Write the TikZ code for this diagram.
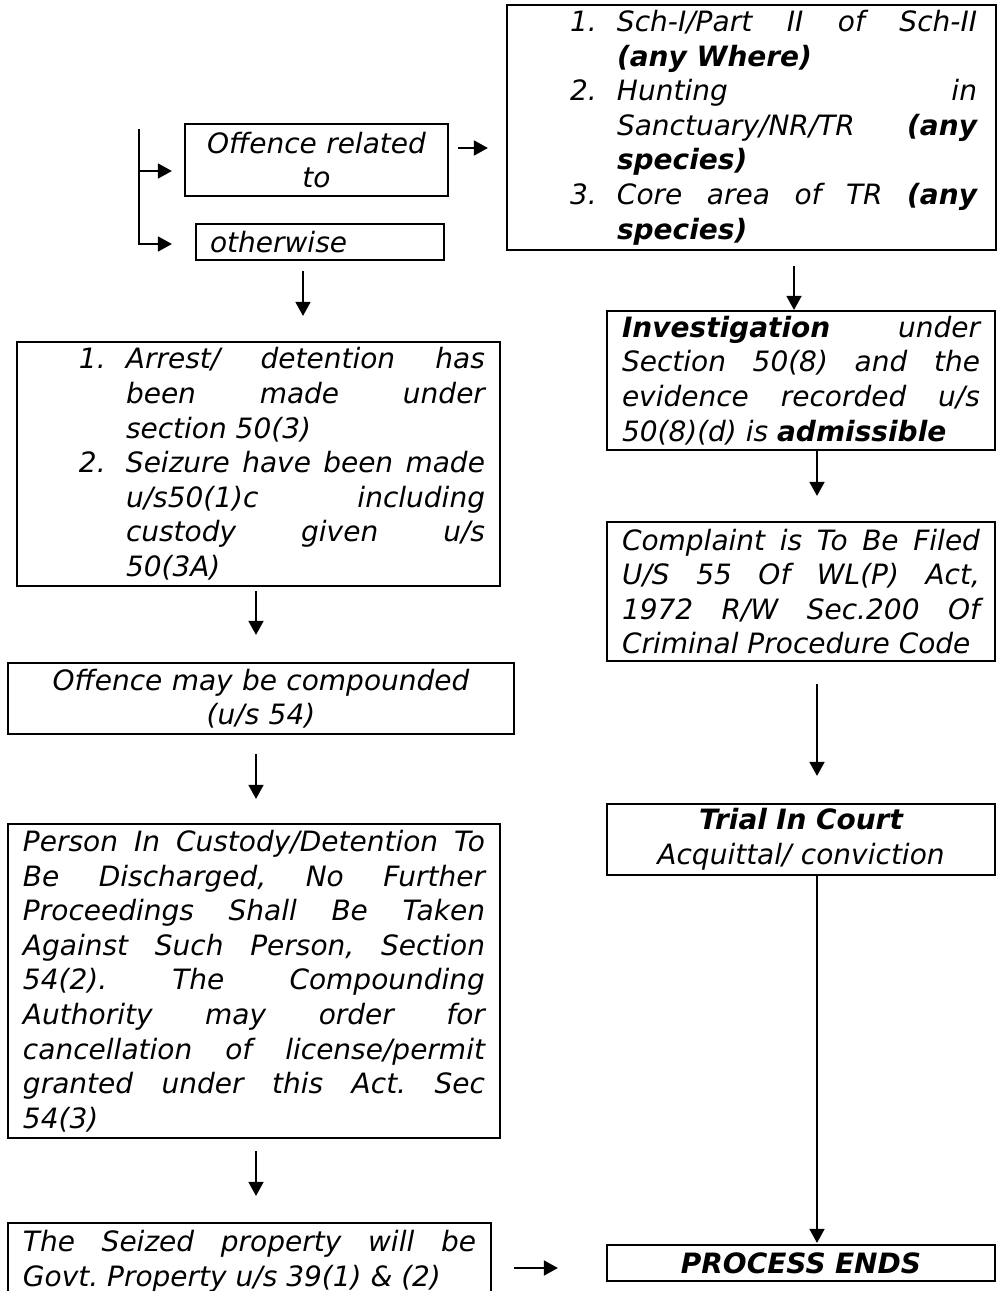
\documentclass[tikz,border=0pt]{standalone}
\usepackage{fontspec}
\setmainfont{DejaVu Sans}
\usetikzlibrary{arrows.meta,calc}

\hyphenpenalty=10000
\exhyphenpenalty=10000
\frenchspacing
\newlength{\itmindent}
\newcommand{\itm}[1]{\noindent\leftskip=\itmindent\llap{\makebox[47pt][l]{#1}}}

\begin{document}
\begin{tikzpicture}[x=1pt, y=-1pt]
    \tikzstyle{block} = [rectangle, draw, line width=2.2pt, inner ysep=0pt, inner xsep=15pt, font=\fontsize{28}{34.6}\selectfont\itshape]
    \tikzstyle{arrow} = [line width=1.6pt, -{Triangle[length=14pt, width=15pt]}]

    \useasboundingbox (0,0) rectangle (999,1291);
    \clip (0,0) rectangle (999,1291);

    % right column
    \node (rules) [block, inner xsep=19pt, text width=451pt, minimum height=245pt, align=justify] at (751.5,127.5) {\setlength{\itmindent}{91pt}%
        \itm{1.}Sch-I/Part II of Sch-II\linebreak \textbf{(any Where)}\par
        \itm{2.}Hunting in\linebreak Sanctuary/NR/TR \textbf{(any}\linebreak \textbf{species)}\par
        \itm{3.}Core area of TR \textbf{(any}\linebreak \textbf{species)}\par};
    \node (investigation) [block, text width=358pt, minimum height=139pt, align=justify] at (801,380.5) {\textbf{Investigation} under\linebreak Section 50(8) and the\linebreak evidence recorded u/s\linebreak 50(8)(d) is \textbf{admissible}};
    \node (complaint) [block, text width=358pt, minimum height=139pt, align=justify] at (801,591.5) {Complaint is To Be Filed\linebreak U/S 55 Of WL(P) Act,\linebreak 1972 R/W Sec.200 Of\linebreak Criminal Procedure Code};
    \node (trial) [block, text width=358pt, minimum height=71pt, align=center] at (801,839.5) {\textbf{Trial In Court}\\ Acquittal/ conviction};
    \node (ends) [block, text width=358pt, minimum height=36pt, align=center] at (801,1263) {\textbf{PROCESS ENDS}};

    % left column
    \node (related) [block, inner xsep=10pt, text width=243pt, minimum height=72pt, align=center] at (316.5,160) {Offence related\\ to};
    \node (otherwise) [block, inner xsep=14pt, text width=220pt, minimum height=36pt, align=left] at (320,242) {otherwise};
    \node (arrest) [block, text width=453pt, minimum height=244pt, align=justify] at (258.5,464) {\setlength{\itmindent}{94pt}%
        \itm{1.}Arrest/ detention has\linebreak been made under\linebreak section 50(3)\par
        \itm{2.}Seizure have been made\linebreak u/s50(1)c including\linebreak custody given u/s\linebreak 50(3A)\par};
    \node (compounded) [block, text width=476pt, minimum height=71pt, align=center] at (261,698.5) {Offence may be compounded\\ (u/s 54)};
    \node (discharge) [block, text width=462pt, minimum height=314pt, align=justify] at (254,981) {Person In Custody/Detention To\linebreak Be Discharged, No Further\linebreak Proceedings Shall Be Taken\linebreak Against Such Person, Section\linebreak 54(2). The Compounding\linebreak Authority may order for\linebreak cancellation of license/permit\linebreak granted under this Act. Sec\linebreak 54(3)};
    \node (seized) [block, text width=453pt, minimum height=77pt, align=justify] at (249.5,1261.5) {The Seized property will be\linebreak Govt. Property u/s 39(1) \& (2)};

    \coordinate (split) at (139,129);

    \draw [arrow] (split) |- ($(related.west)+(-12,11)$);
    \draw [arrow] (split) |- ($(otherwise.west)+(-23,2)$);
    \draw [arrow] ($(related.east)+(9,-12)$) -- ($(rules.west)+(-18,20.5)$);
    \draw [arrow] ($(otherwise.south)+(-17,10)$) -- ($(arrest.north)+(44.5,-25)$);
    \draw [arrow] ($(arrest.south)+(-2.5,4)$) -- ($(compounded.north)+(-5,-27)$);
    \draw [arrow] ($(compounded.south)+(-5,19)$) -- ($(discharge.north)+(2,-24)$);
    \draw [arrow] ($(discharge.south)+(2,12)$) -- ($(seized.north)+(6.5,-26)$);
    \draw [arrow] ($(seized.east)+(22,6.5)$) -- ($(ends.west)+(-48,5)$);
    \draw [arrow] ($(rules.south)+(42.5,15)$) -- ($(investigation.north)+(-7,0)$);
    \draw [arrow] ($(investigation.south)+(16,0)$) -- ($(complaint.north)+(16,-25)$);
    \draw [arrow] ($(complaint.south)+(16,22)$) -- ($(trial.north)+(16,-27)$);
    \draw [arrow] ($(trial.south)+(16,0)$) -- ($(ends.north)+(16,-1)$);
\end{tikzpicture}
\end{document}
